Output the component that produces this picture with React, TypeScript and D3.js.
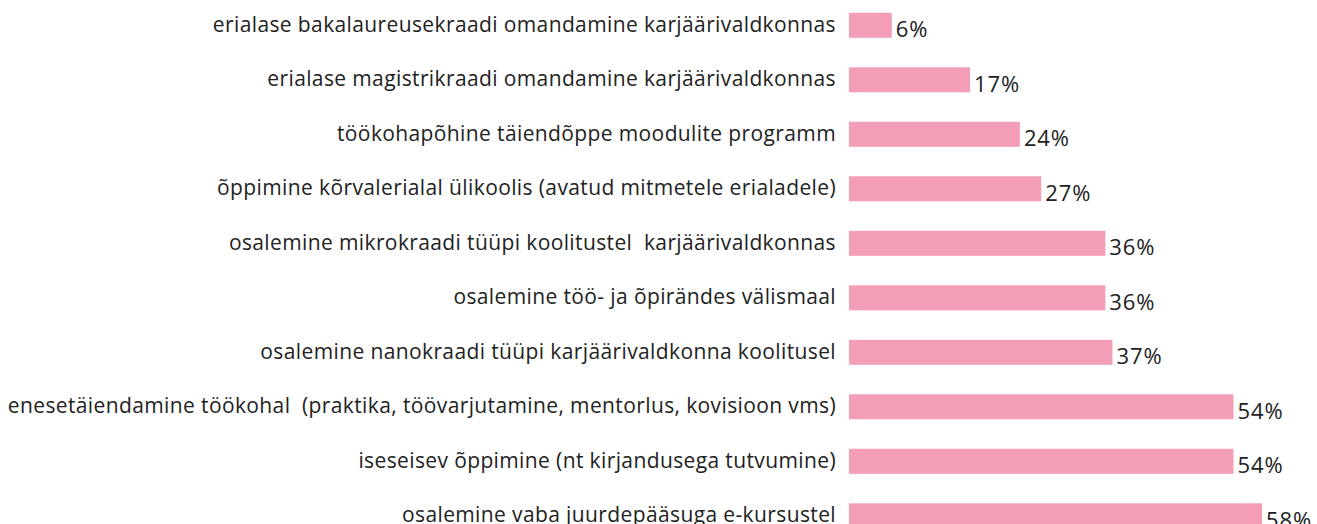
import React from "react";
import * as d3 from "d3";

const categories: string[] = [
  "erialase bakalaureusekraadi omandamine karjäärivaldkonnas",
  "erialase magistrikraadi omandamine karjäärivaldkonnas",
  "töökohapõhine täiendõppe moodulite programm",
  "õppimine kõrvalerialal ülikoolis (avatud mitmetele erialadele)",
  "osalemine mikrokraadi tüüpi koolitustel  karjäärivaldkonnas",
  "osalemine töö- ja õpirändes välismaal",
  "osalemine nanokraadi tüüpi karjäärivaldkonna koolitusel",
  "enesetäiendamine töökohal  (praktika, töövarjutamine, mentorlus, kovisioon vms)",
  "iseseisev õppimine (nt kirjandusega tutvumine)",
  "osalemine vaba juurdepääsuga e-kursustel",
];

const values: number[] = [6, 17, 24, 27, 36, 36, 37, 54, 54, 58];

const W = 1317;
const H = 524;
const FONT = "'Open Sans', 'Noto Sans', sans-serif";
const BAR = "#f49db6";
const TEXT = "#222222";

export default function App() {
  const x = d3.scaleLinear().domain([0, 100]).range([849, 849 + 712]);
  const y = d3.scalePoint<string>().domain(categories).range([25.3, 515.8]).padding(0);
  const barH = 25;

  return (
    <div style={{ position: "fixed", left: 0, top: 0, width: W, height: H, background: "#fff" }}>
      <svg width={W} height={H} style={{ display: "block" }} fontFamily={FONT}>
        {categories.map((c, i) => {
          const cy = y(c) as number;
          const x0 = x(0);
          const x1 = x(values[i]);
          return (
            <g key={c}>
              <rect x={x0} y={cy - barH / 2} width={x1 - x0} height={barH} fill={BAR} />
              <text
                x={x0 - 13}
                y={cy}
                dy="0.3em"
                textAnchor="end"
                fontSize={21}
                letterSpacing={0.38}
                fill={TEXT}
                style={{ whiteSpace: "pre" }}
              >
                {c}
              </text>
              <text x={x1 + 4} y={cy + 4} dy="0.35em" fontSize={22} letterSpacing={0.9} fill={TEXT}>
                {values[i] + "%"}
              </text>
            </g>
          );
        })}
      </svg>
    </div>
  );
}
